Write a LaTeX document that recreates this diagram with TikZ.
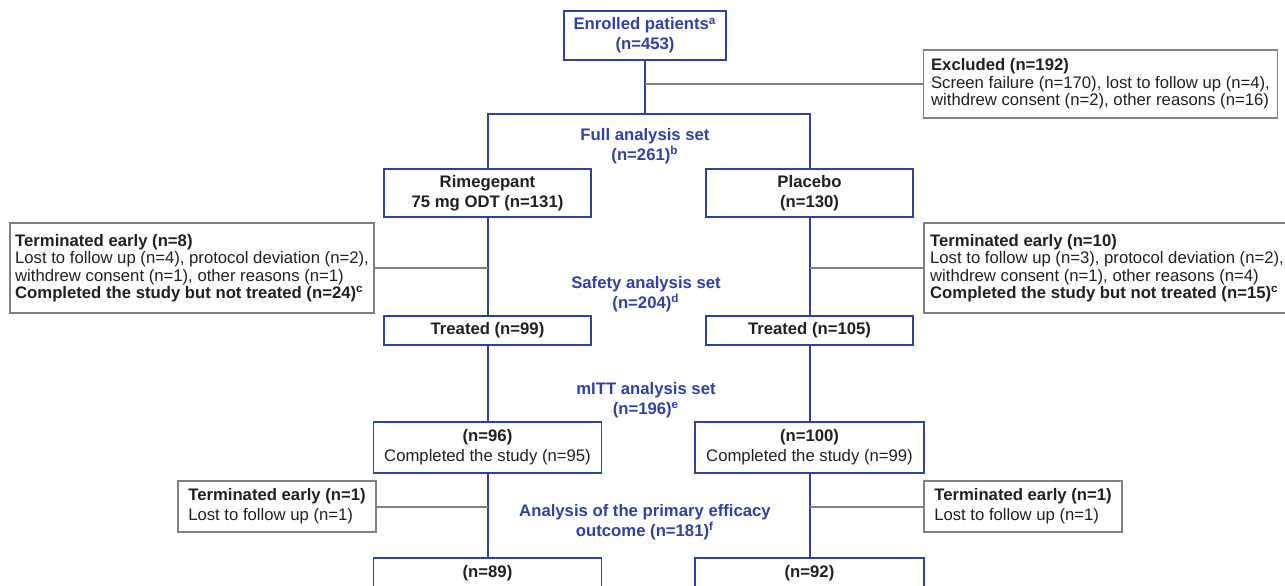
\documentclass[tikz,border=0pt]{standalone}
\usepackage{fontspec}
\setmainfont{Liberation Sans}
\usepackage{xcolor}
\definecolor{flowblue}{RGB}{50,64,160}
\definecolor{flowgray}{RGB}{128,128,128}
\definecolor{flowtext}{RGB}{35,31,32}
\newcommand{\flowfont}{\fontsize{8.35pt}{10pt}\selectfont}
\newcommand{\tightfont}{\fontsize{8.35pt}{8.7pt}\selectfont}

\begin{document}
\begin{tikzpicture}[x=0.5pt, y=-0.5pt,
    every node/.style={font=\flowfont, text=flowtext, inner sep=0pt},
    bluebox/.style={draw=flowblue, line width=0.75pt, align=center},
    boldbox/.style={bluebox, font=\flowfont\bfseries},
    graybox/.style={draw=flowgray, line width=0.75pt, align=left},
    tightbox/.style={graybox, font=\tightfont},
    setlabel/.style={text=flowblue, align=center, font=\flowfont\bfseries},
    blueline/.style={draw=flowblue, line width=1pt},
    grayline/.style={draw=flowgray, line width=1pt}]
    \useasboundingbox (0,0) rectangle (1285,585);
    \clip (0,0) rectangle (1285,585);
    \node [boldbox, text=flowblue, minimum width=81pt, minimum height=24.5pt] (enr) at (645,35.5) {Enrolled patients\textsuperscript{a}\\(n=453)};
    \node [tightbox, minimum width=177pt, minimum height=34pt] (exc) at (1100.5,84) {\textbf{Excluded (n=192)}\\Screen failure (n=170), lost to follow up (n=4),\\withdrew consent (n=2), other reasons (n=16)};
    \node [setlabel] (fas) at (645,146) {Full analysis set\\(n=261)\textsuperscript{b}};
    \node [boldbox, minimum width=103.5pt, minimum height=24pt] (rim) at (487.5,193) {Rimegepant\\75 mg ODT (n=131)};
    \node [boldbox, minimum width=103.5pt, minimum height=24pt] (pla) at (809.5,193) {Placebo\\(n=130)};
    \node [tightbox, minimum width=182pt, minimum height=45pt] (terL) at (192,268) {\textbf{Terminated early (n=8)}\\Lost to follow up (n=4), protocol deviation (n=2),\\withdrew consent (n=1), other reasons (n=1)\\\textbf{Completed the study but not treated (n=24)\textsuperscript{c}}};
    \node [tightbox, minimum width=183pt, minimum height=45pt] (terR) at (1107,268) {\textbf{Terminated early (n=10)}\\Lost to follow up (n=3), protocol deviation (n=2),\\withdrew consent (n=1), other reasons (n=4)\\\textbf{Completed the study but not treated (n=15)\textsuperscript{c}}};
    \node [setlabel] (saf) at (646,294) {Safety analysis set\\(n=204)\textsuperscript{d}};
    \node [boldbox, minimum width=103.5pt, minimum height=14.5pt] (trL) at (487.5,330.5) {Treated (n=99)};
    \node [boldbox, minimum width=103.5pt, minimum height=14.5pt] (trR) at (809.5,330.5) {Treated (n=105)};
    \node [setlabel] (mitt) at (646,400) {mITT analysis set\\(n=196)\textsuperscript{e}};
    \node [bluebox, minimum width=114pt, minimum height=25.5pt] (comL) at (487.5,447.5) {\textbf{(n=96)}\\Completed the study (n=95)};
    \node [bluebox, minimum width=114.5pt, minimum height=25.5pt] (comR) at (809.5,447.5) {\textbf{(n=100)}\\Completed the study (n=99)};
    \node [graybox, minimum width=99pt, minimum height=25.5pt] (smL) at (277,506.5) {\textbf{Terminated early (n=1)}\\Lost to follow up (n=1)};
    \node [graybox, minimum width=99pt, minimum height=25.5pt] (smR) at (1023,506.5) {\textbf{Terminated early (n=1)}\\Lost to follow up (n=1)};
    \node [setlabel] (ana) at (645,522) {Analysis of the primary efficacy\\outcome (n=181)\textsuperscript{f}};
    \node [boldbox, minimum width=114pt, minimum height=15pt] (botL) at (487.5,573) {(n=89)};
    \node [boldbox, minimum width=114.5pt, minimum height=15pt] (botR) at (809.5,573) {(n=92)};
    \coordinate (split) at (645,114);
    \draw[blueline] (enr.south) -- (split);
    \draw[blueline] (rim.north) |- (split) -| (pla.north);
    \draw[blueline] (rim) -- (trL);
    \draw[blueline] (pla) -- (trR);
    \draw[blueline] (trL) -- (comL);
    \draw[blueline] (trR) -- (comR);
    \draw[blueline] (comL) -- (botL);
    \draw[blueline] (comR) -- (botR);
    \draw[grayline] (exc.west) -- (exc.west -| enr.south);
    \draw[grayline] (terL.east) -- (terL.east -| rim.south);
    \draw[grayline] (terR.west) -- (terR.west -| pla.south);
    \draw[grayline] (smL.east) -- (smL.east -| comL.south);
    \draw[grayline] (smR.west) -- (smR.west -| comR.south);
\end{tikzpicture}
\end{document}
